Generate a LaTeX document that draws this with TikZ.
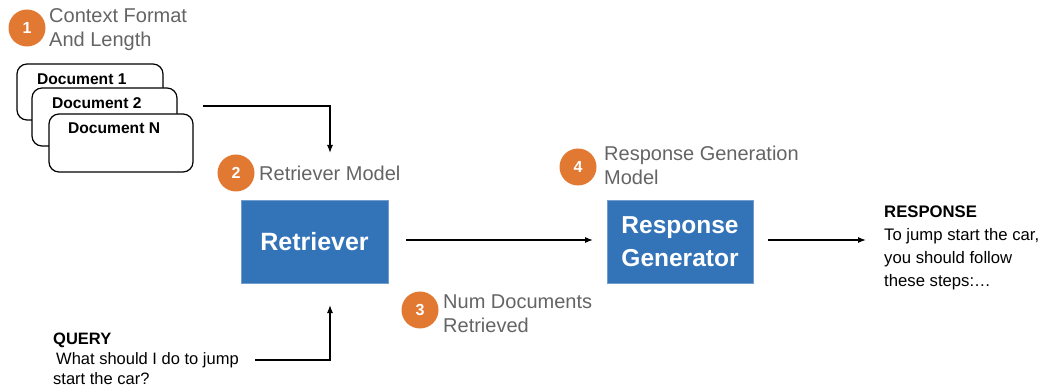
\documentclass[tikz,border=0pt]{standalone}
\usepackage{fontspec}
\setmainfont{Liberation Sans}
\usetikzlibrary{arrows.meta}
\definecolor{orng}{RGB}{226,121,50}
\definecolor{blu}{RGB}{51,115,184}
\definecolor{gry}{RGB}{100,100,100}
\begin{document}
\begin{tikzpicture}[x=1pt,y=-1pt,
  badge/.style={circle,fill=orng,minimum size=37pt,inner sep=0pt,text=white,font=\fontsize{16}{16}\selectfont\bfseries},
  glabel/.style={anchor=base west,inner sep=0pt,text=gry,align=left,font=\fontsize{20}{24}\selectfont},
  doc/.style={draw=black,fill=white,line width=1.2pt,rounded corners=10pt},
  doctext/.style={anchor=base west,inner sep=0pt,font=\fontsize{15.6}{18}\selectfont\bfseries},
  block/.style={fill=blu,draw=blu!70!white,line width=0.6pt,text=white,align=center,font=\fontsize{25}{30}\selectfont\bfseries},
  btext/.style={anchor=base west,inner sep=0pt,align=left,font=\fontsize{16.7}{23}\selectfont},
  arr/.style={-{Latex[length=8pt,width=6pt]},line width=1.2pt}]
\useasboundingbox (0,0) rectangle (1041,387);
% badges and labels
\node[badge] (b1) at (27,28) {1};
\node[glabel] (l1) at (49,47) {Context Format\\And Length};
\node[badge] (b2) at (236,173) {2};
\node[glabel] (l2) at (259,181) {Retriever Model};
\node[badge] (b3) at (420,310) {3};
\node[glabel] (l3) at (443,332) {Num Documents\\Retrieved};
\node[badge] (b4) at (578,167) {4};
\node[glabel] (l4) at (604,185) {Response Generation\\Model};
% documents
\draw[doc] (17,64) rectangle (163,120);
\node[doctext] (d1) at (37,85) {Document 1};
\draw[doc] (32,88) rectangle (177,146);
\node[doctext] (d2) at (52,109) {Document 2};
\draw[doc] (49,114) rectangle (193,172);
\node[doctext] (dn) at (68,134) {Document N};
\coordinate (docout) at (203,106);
% blocks
\node[block,minimum width=147pt,minimum height=83pt] (ret) at (314.5,241.5) {Retriever};
\node[block,minimum width=146pt,minimum height=83pt,font=\fontsize{24.5}{33}\selectfont\bfseries] (gen) at (680,241.5) {Response\\Generator};
% query and response
\node[btext,font=\fontsize{16.5}{20}\selectfont] (query) at (53,384) {\textbf{QUERY}\\\hspace*{3pt}What should I do to jump\\start the car?};
\node[btext] (resp) at (884,287) {\textbf{RESPONSE}\\To jump start the car,\\you should follow\\these steps:\ldots};
\coordinate (qout) at (255,360);
\coordinate (rin) at (866,240);
% connectors
\draw[arr] (docout) -| (330,153);
\draw[arr] (qout) -| (330,305);
\draw[arr] (406,240) -- (593,240);
\draw[arr] (768,240) -- (rin);
\end{tikzpicture}
\end{document}
